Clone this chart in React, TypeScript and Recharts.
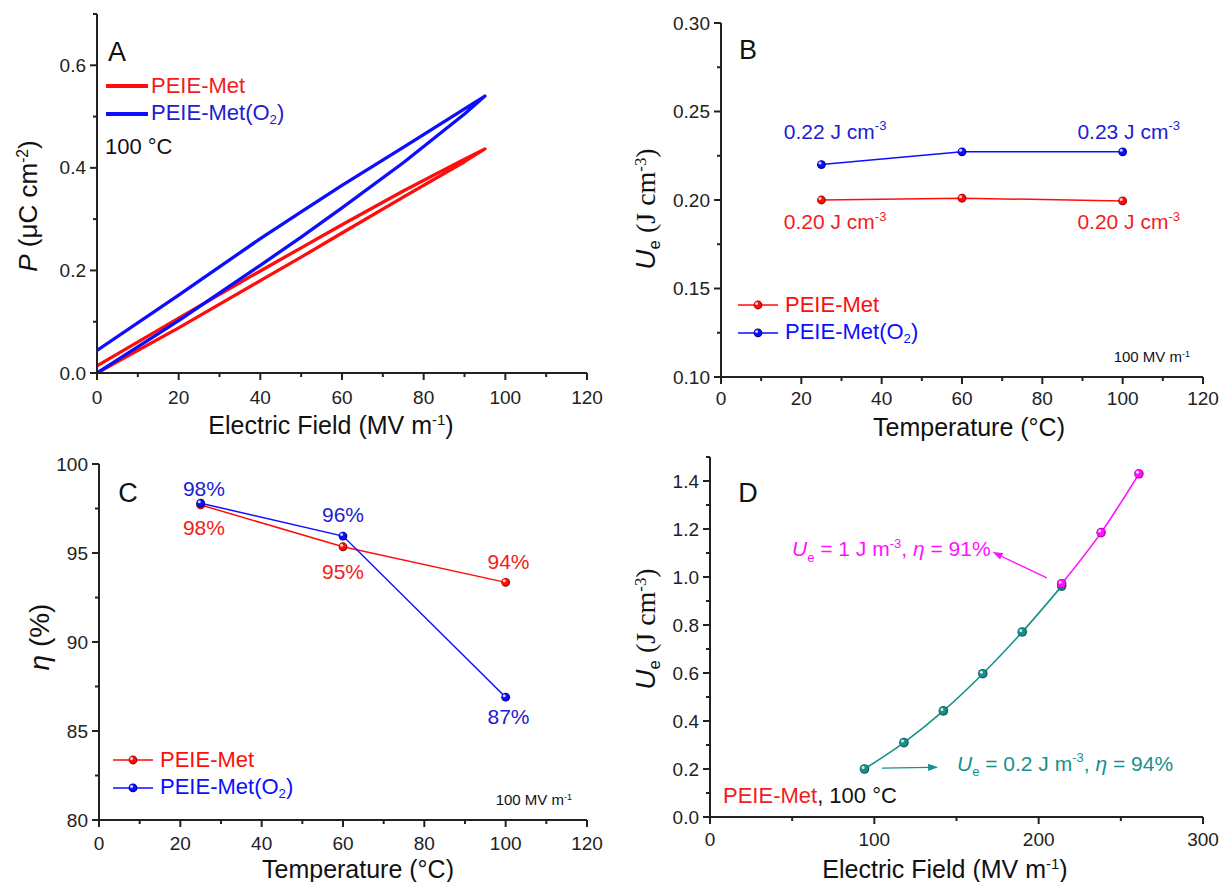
import React from "react";
import { LineChart, Line, XAxis, YAxis, ReferenceDot, ReferenceLine } from "recharts";

const FONT = '"Liberation Sans", Arial, sans-serif';
const SERIF = '"Liberation Serif", "Times New Roman", serif';
const INK = "#222";
const RED = "#ff0d0d";
const BLUE = "#0d0dff";
const RED_TXT = "#f21c1c";
const BLUE_TXT = "#2020d2";
const TEAL = "#16918b";
const MAGENTA = "#ff10ff";

// panel A: P-E loops at 100 °C, charge branch out to 95 MV/m then discharge back
const loopField = [0, 20, 40, 50, 60, 75, 90, 95, 90, 75, 60, 50, 40, 20, 0];
const loopMet = [0, 0.088, 0.18, 0.226, 0.273, 0.343, 0.412, 0.437, 0.417, 0.355, 0.289, 0.244, 0.199, 0.107, 0.014];
const loopMetO2 = [0, 0.102, 0.21, 0.265, 0.322, 0.41, 0.505, 0.54, 0.515, 0.44, 0.366, 0.314, 0.262, 0.152, 0.044];

// panels B and C: vs temperature, 100 MV/m
const temps = [25, 60, 100];
const ueMet = [0.2, 0.201, 0.1995];
const ueMetO2 = [0.22, 0.2272, 0.2272];
const etaMet = [97.7, 95.35, 93.35];
const etaMetO2 = [97.8, 95.95, 86.9];

// panel D: PEIE-Met at 100 °C
const fieldLow = [94, 118, 142, 166, 190, 214];
const ueLow = [0.2, 0.31, 0.442, 0.597, 0.771, 0.962];
const fieldHigh = [214, 238, 261];
const ueHigh = [0.972, 1.185, 1.43];

// ticks (minor + major)
const tempTicks = [0, 10, 20, 30, 40, 50, 60, 70, 80, 90, 100, 110, 120];
const tempMajor = [0, 20, 40, 60, 80, 100, 120];
const pTicks = [0, 0.1, 0.2, 0.3, 0.4, 0.5, 0.6, 0.7];
const pMajor = [0, 0.2, 0.4, 0.6];
const ueTicks = [0.1, 0.125, 0.15, 0.175, 0.2, 0.225, 0.25, 0.275, 0.3];
const ueMajor = [0.1, 0.15, 0.2, 0.25, 0.3];
const etaTicks = [80, 82.5, 85, 87.5, 90, 92.5, 95, 97.5, 100];
const etaMajor = [80, 85, 90, 95, 100];
const fieldTicks = [0, 50, 100, 150, 200, 250, 300];
const fieldMajor = [0, 100, 200, 300];
const ueDTicks = [0, 0.1, 0.2, 0.3, 0.4, 0.5, 0.6, 0.7, 0.8, 0.9, 1.0, 1.1, 1.2, 1.3, 1.4, 1.5];
const ueDMajor = [0, 0.2, 0.4, 0.6, 0.8, 1.0, 1.2, 1.4];

const toRows = (xs: number[], ys: number[]) => xs.map((x, i) => ({ x, y: ys[i] }));

type Side = "bottom" | "top" | "left" | "right";

function tickRenderer(side: Side, majors: number[], fmt: (v: number) => string, labelGap = 23) {
  return (props: any) => {
    const { x, y, payload, index } = props;
    const v = payload.value;
    const major = majors.some((m) => Math.abs(m - v) < 1e-6);
    const len = major ? 7 : 4;
    let line = null;
    let label = null;
    if (side === "bottom") {
      line = <line x1={x} y1={y} x2={x} y2={y + len} />;
      if (major)
        label = (
          <text x={x} y={y + labelGap} textAnchor="middle" dominantBaseline="central">
            {fmt(v)}
          </text>
        );
    } else if (side === "top") {
      line = <line x1={x} y1={y} x2={x} y2={y + len} />;
    } else if (side === "left") {
      line = <line x1={x} y1={y} x2={x - len} y2={y} />;
      if (major)
        label = (
          <text x={x - 11} y={y} textAnchor="end" dominantBaseline="central">
            {fmt(v)}
          </text>
        );
    } else {
      line = <line x1={x} y1={y} x2={x - len} y2={y} />;
    }
    return (
      <g key={`${side}-${index}`}>
        <g stroke={INK} strokeWidth={2}>{line}</g>
        <g fill={INK} fontFamily={FONT} fontSize={19}>{label}</g>
      </g>
    );
  };
}

const AXIS = { stroke: INK, strokeWidth: 2 };

function frameAxes(o: {
  xDomain: [number, number];
  xTicks: number[];
  xMajor: number[];
  xFmt: (v: number) => string;
  yDomain: [number, number];
  yTicks: number[];
  yMajor: number[];
  yFmt: (v: number) => string;
  yWidth: number;
  xHeight: number;
  labelGap: number;
}) {
  const common = { type: "number" as const, allowDataOverflow: true, interval: 0 as const, tickSize: 0, tickMargin: 0, tickLine: false, axisLine: AXIS };
  return [
    <XAxis key="xb" xAxisId="b" dataKey="x" orientation="bottom" domain={o.xDomain} ticks={o.xTicks} height={o.xHeight} tick={tickRenderer("bottom", o.xMajor, o.xFmt, o.labelGap)} {...common} />,
    <XAxis key="xt" xAxisId="t" orientation="top" domain={o.xDomain} ticks={o.xTicks} height={0} tick={tickRenderer("top", o.xMajor, o.xFmt)} {...common} />,
    <YAxis key="yl" yAxisId="l" orientation="left" domain={o.yDomain} ticks={o.yTicks} width={o.yWidth} tick={tickRenderer("left", o.yMajor, o.yFmt)} {...common} />,
    <YAxis key="yr" yAxisId="r" orientation="right" domain={o.yDomain} ticks={o.yTicks} width={0} tick={tickRenderer("right", o.yMajor, o.yFmt)} {...common} />,
  ];
}

function ball(color: string, dark: string, r = 4.4) {
  return (props: any) => {
    const { cx, cy, index } = props;
    if (cx == null || cy == null) return <g key={`n${index}`} />;
    return (
      <g key={`d${index}`}>
        <circle cx={cx} cy={cy} r={r} fill={dark} />
        <circle cx={cx - 0.3} cy={cy - 0.3} r={r - 0.9} fill={color} />
        <circle cx={cx - 1.4} cy={cy - 1.5} r={1.5} fill="#fff" opacity={0.8} />
      </g>
    );
  };
}

type Part = { t: string; s?: "sup" | "sub"; i?: boolean };

function rich(parts: Part[], color: string, size: number, anchor: "start" | "middle" | "end", font = FONT) {
  return (p: any) => {
    const small = Math.round(size * 0.62);
    const out: React.ReactNode[] = [];
    let shift = 0;
    parts.forEach((pt, k) => {
      const target = pt.s === "sup" ? -size * 0.42 : pt.s === "sub" ? size * 0.25 : 0;
      const dy = target - shift;
      shift = target;
      out.push(
        <tspan key={k} dy={dy} fontSize={pt.s ? small : size} fontStyle={pt.i ? "italic" : "normal"}>
          {pt.t}
        </tspan>
      );
    });
    return (
      <text x={p.cx} y={p.cy + size * 0.36} textAnchor={anchor} fill={color} fontFamily={font} fontSize={size}>
        {out}
      </text>
    );
  };
}

function arrow(color: string) {
  return (p: any) => {
    const { x1, y1, x2, y2 } = p;
    const a = Math.atan2(y2 - y1, x2 - x1);
    const L = 10;
    const W = 3.6;
    const bx = x2 - L * Math.cos(a);
    const by = y2 - L * Math.sin(a);
    const pts = `${x2},${y2} ${bx - W * Math.sin(a)},${by + W * Math.cos(a)} ${bx + W * Math.sin(a)},${by - W * Math.cos(a)}`;
    return (
      <g>
        <line x1={x1} y1={y1} x2={bx + 2 * Math.cos(a)} y2={by + 2 * Math.sin(a)} stroke={color} strokeWidth={1.3} />
        <polygon points={pts} fill={color} />
      </g>
    );
  };
}

const abs = (left: number, top: number, extra: React.CSSProperties = {}): React.CSSProperties => ({
  position: "absolute",
  left,
  top,
  whiteSpace: "nowrap",
  lineHeight: 1,
  fontFamily: FONT,
  pointerEvents: "none",
  ...extra,
});

const supStyle: React.CSSProperties = { fontSize: "0.6em", verticalAlign: "0.55em" };
const subStyle: React.CSSProperties = { fontSize: "0.6em", verticalAlign: "-0.3em" };

function Letter({ x, y, ch }: { x: number; y: number; ch: string }) {
  return <div style={abs(x, y, { fontSize: 27, color: "#111", transform: "translate(-50%,-50%)" })}>{ch}</div>;
}

function XTitle({ x, y, children }: { x: number; y: number; children: React.ReactNode }) {
  return <div style={abs(x, y, { fontSize: 25, color: "#111", transform: "translate(-50%,-50%)" })}>{children}</div>;
}

function YTitle({ x, y, children, size = 27 }: { x: number; y: number; children: React.ReactNode; size?: number }) {
  return (
    <div style={abs(x, y, { fontSize: size, color: "#111", transform: "translate(-50%,-50%) rotate(-90deg)" })}>{children}</div>
  );
}

function LegendBall({ x, y, color, dark, children }: { x: number; y: number; color: string; dark: string; children: React.ReactNode }) {
  return (
    <div style={abs(x, y, { transform: "translateY(-50%)", display: "flex", alignItems: "center", fontSize: 22, color })}>
      <svg width={42} height={12} style={{ marginRight: 5 }}>
        <line x1={0} y1={6} x2={40} y2={6} stroke={color} strokeWidth={1.5} />
        <circle cx={20} cy={6} r={4.4} fill={dark} />
        <circle cx={19.7} cy={5.7} r={3.5} fill={color} />
        <circle cx={18.6} cy={4.5} r={1.5} fill="#fff" opacity={0.8} />
      </svg>
      <span>{children}</span>
    </div>
  );
}

const UeTitle = () => (
  <span style={{ fontFamily: SERIF }}>
    <i style={{ fontFamily: FONT }}>U</i>
    <span style={{ ...subStyle, fontFamily: FONT }}>e</span> (J cm<span style={supStyle}>-3</span>)
  </span>
);

function PanelA() {
  return (
    <div style={{ position: "absolute", left: 0, top: 0, width: 610, height: 441 }}>
      <LineChart width={610} height={441} margin={{ top: 14, right: 23, bottom: 0, left: 0 }}>
        {frameAxes({
          xDomain: [0, 120], xTicks: tempTicks, xMajor: tempMajor, xFmt: (v) => String(v),
          yDomain: [0, 0.7], yTicks: pTicks, yMajor: pMajor, yFmt: (v) => v.toFixed(1),
          yWidth: 97, xHeight: 68, labelGap: 24,
        })}
        <Line data={toRows(loopField, loopMet)} dataKey="y" xAxisId="b" yAxisId="l" type="linear" stroke={RED} strokeWidth={3.3} strokeLinejoin="round" dot={false} activeDot={false} isAnimationActive={false} />
        <Line data={toRows(loopField, loopMetO2)} dataKey="y" xAxisId="b" yAxisId="l" type="linear" stroke={BLUE} strokeWidth={3.3} strokeLinejoin="round" dot={false} activeDot={false} isAnimationActive={false} />
      </LineChart>
      <Letter x={117} y={52} ch="A" />
      <svg style={{ position: "absolute", left: 105, top: 80 }} width={44} height={40}>
        <line x1={1} y1={6} x2={43} y2={6} stroke={RED} strokeWidth={4} />
        <line x1={1} y1={34} x2={43} y2={34} stroke={BLUE} strokeWidth={4} />
      </svg>
      <div style={abs(151, 86, { fontSize: 22, color: RED_TXT, transform: "translateY(-50%)" })}>PEIE-Met</div>
      <div style={abs(151, 114, { fontSize: 22, color: BLUE_TXT, transform: "translateY(-50%)" })}>
        PEIE-Met(O<span style={subStyle}>2</span>)
      </div>
      <div style={abs(105, 147, { fontSize: 22, color: "#111", transform: "translateY(-50%)" })}>100 °C</div>
      <XTitle x={331} y={425}>
        Electric Field (MV m<span style={supStyle}>-1</span>)
      </XTitle>
      <YTitle x={28} y={206} size={26}>
        <i>P</i> (μC cm<span style={supStyle}>-2</span>)
      </YTitle>
    </div>
  );
}

function PanelB() {
  return (
    <div style={{ position: "absolute", left: 610, top: 0, width: 610, height: 441 }}>
      <LineChart width={610} height={441} margin={{ top: 23, right: 17, bottom: 0, left: 0 }}>
        {frameAxes({
          xDomain: [0, 120], xTicks: tempTicks, xMajor: tempMajor, xFmt: (v) => String(v),
          yDomain: [0.1, 0.3], yTicks: ueTicks, yMajor: ueMajor, yFmt: (v) => v.toFixed(2),
          yWidth: 111, xHeight: 64, labelGap: 21,
        })}
        <Line data={toRows(temps, ueMet)} dataKey="y" xAxisId="b" yAxisId="l" type="linear" stroke={RED} strokeWidth={1.5} dot={ball(RED, "#a80000")} activeDot={false} isAnimationActive={false} />
        <Line data={toRows(temps, ueMetO2)} dataKey="y" xAxisId="b" yAxisId="l" type="linear" stroke={BLUE} strokeWidth={1.5} dot={ball(BLUE, "#00009a")} activeDot={false} isAnimationActive={false} />
        <ReferenceDot xAxisId="b" yAxisId="l" x={28.4} y={0.2386} r={1} shape={rich([{ t: "0.22 J cm" }, { t: "-3", s: "sup" }], BLUE_TXT, 21, "middle")} />
        <ReferenceDot xAxisId="b" yAxisId="l" x={101.5} y={0.2386} r={1} shape={rich([{ t: "0.23 J cm" }, { t: "-3", s: "sup" }], BLUE_TXT, 21, "middle")} />
        <ReferenceDot xAxisId="b" yAxisId="l" x={28.4} y={0.1877} r={1} shape={rich([{ t: "0.20 J cm" }, { t: "-3", s: "sup" }], RED_TXT, 21, "middle")} />
        <ReferenceDot xAxisId="b" yAxisId="l" x={101.5} y={0.1877} r={1} shape={rich([{ t: "0.20 J cm" }, { t: "-3", s: "sup" }], RED_TXT, 21, "middle")} />
      </LineChart>
      <Letter x={138} y={50} ch="B" />
      <LegendBall x={128} y={305} color={RED} dark="#a80000">PEIE-Met</LegendBall>
      <LegendBall x={128} y={333} color={BLUE} dark="#00009a">
        PEIE-Met(O<span style={subStyle}>2</span>)
      </LegendBall>
      <div style={abs(580, 356, { fontSize: 15, color: "#111", transform: "translate(-100%,-50%)" })}>
        100 MV m<span style={supStyle}>-1</span>
      </div>
      <XTitle x={359} y={427}>Temperature (°C)</XTitle>
      <YTitle x={38} y={209} size={28}>
        <UeTitle />
      </YTitle>
    </div>
  );
}

function PanelC() {
  return (
    <div style={{ position: "absolute", left: 0, top: 441, width: 610, height: 441 }}>
      <LineChart width={610} height={441} margin={{ top: 23, right: 23, bottom: 0, left: 0 }}>
        {frameAxes({
          xDomain: [0, 120], xTicks: tempTicks, xMajor: tempMajor, xFmt: (v) => String(v),
          yDomain: [80, 100], yTicks: etaTicks, yMajor: etaMajor, yFmt: (v) => String(v),
          yWidth: 99, xHeight: 62, labelGap: 23,
        })}
        <Line data={toRows(temps, etaMet)} dataKey="y" xAxisId="b" yAxisId="l" type="linear" stroke={RED} strokeWidth={1.5} dot={ball(RED, "#a80000")} activeDot={false} isAnimationActive={false} />
        <Line data={toRows(temps, etaMetO2)} dataKey="y" xAxisId="b" yAxisId="l" type="linear" stroke={BLUE} strokeWidth={1.5} dot={ball(BLUE, "#00009a")} activeDot={false} isAnimationActive={false} />
        <ReferenceDot xAxisId="b" yAxisId="l" x={25.8} y={98.6} r={1} shape={rich([{ t: "98%" }], BLUE_TXT, 21, "middle")} />
        <ReferenceDot xAxisId="b" yAxisId="l" x={25.8} y={96.46} r={1} shape={rich([{ t: "98%" }], RED_TXT, 21, "middle")} />
        <ReferenceDot xAxisId="b" yAxisId="l" x={60} y={97.19} r={1} shape={rich([{ t: "96%" }], BLUE_TXT, 21, "middle")} />
        <ReferenceDot xAxisId="b" yAxisId="l" x={60} y={93.99} r={1} shape={rich([{ t: "95%" }], RED_TXT, 21, "middle")} />
        <ReferenceDot xAxisId="b" yAxisId="l" x={100.7} y={94.55} r={1} shape={rich([{ t: "94%" }], RED_TXT, 21, "middle")} />
        <ReferenceDot xAxisId="b" yAxisId="l" x={100.7} y={85.84} r={1} shape={rich([{ t: "87%" }], BLUE_TXT, 21, "middle")} />
      </LineChart>
      <Letter x={128} y={52} ch="C" />
      <LegendBall x={113} y={319} color={RED} dark="#a80000">PEIE-Met</LegendBall>
      <LegendBall x={113} y={347} color={BLUE} dark="#00009a">
        PEIE-Met(O<span style={subStyle}>2</span>)
      </LegendBall>
      <div style={abs(572, 358, { fontSize: 15, color: "#111", transform: "translate(-100%,-50%)" })}>
        100 MV m<span style={supStyle}>-1</span>
      </div>
      <XTitle x={358} y={428}>Temperature (°C)</XTitle>
      <YTitle x={40} y={196} size={28}>
        <i>η</i> (%)
      </YTitle>
    </div>
  );
}

function PanelD() {
  return (
    <div style={{ position: "absolute", left: 610, top: 441, width: 610, height: 441 }}>
      <LineChart width={610} height={441} margin={{ top: 16, right: 17, bottom: 0, left: 0 }}>
        {frameAxes({
          xDomain: [0, 300], xTicks: fieldTicks, xMajor: fieldMajor, xFmt: (v) => String(v),
          yDomain: [0, 1.5], yTicks: ueDTicks, yMajor: ueDMajor, yFmt: (v) => v.toFixed(1),
          yWidth: 100, xHeight: 65, labelGap: 22,
        })}
        <Line data={toRows(fieldLow, ueLow)} dataKey="y" xAxisId="b" yAxisId="l" type="monotone" stroke={TEAL} strokeWidth={1.6} dot={ball(TEAL, "#0a5652", 4.8)} activeDot={false} isAnimationActive={false} />
        <Line data={toRows(fieldHigh, ueHigh)} dataKey="y" xAxisId="b" yAxisId="l" type="monotone" stroke={MAGENTA} strokeWidth={1.6} dot={ball(MAGENTA, "#b000b0", 4.8)} activeDot={false} isAnimationActive={false} />
        <ReferenceLine xAxisId="b" yAxisId="l" segment={[{ x: 205, y: 0.996 }, { x: 172, y: 1.104 }]} shape={arrow(MAGENTA)} />
        <ReferenceLine xAxisId="b" yAxisId="l" segment={[{ x: 104.7, y: 0.204 }, { x: 138.8, y: 0.207 }]} shape={arrow(TEAL)} />
        <ReferenceDot
          xAxisId="b" yAxisId="l" x={49.9} y={1.117} r={1}
          shape={rich([{ t: "U", i: true }, { t: "e", s: "sub" }, { t: " = 1 J m" }, { t: "-3", s: "sup" }, { t: ", " }, { t: "η", i: true }, { t: " = 91%" }], MAGENTA, 21, "start")}
        />
        <ReferenceDot
          xAxisId="b" yAxisId="l" x={150.3} y={0.225} r={1}
          shape={rich([{ t: "U", i: true }, { t: "e", s: "sub" }, { t: " = 0.2 J m" }, { t: "-3", s: "sup" }, { t: ", " }, { t: "η", i: true }, { t: " = 94%" }], TEAL, 21, "start")}
        />
      </LineChart>
      <Letter x={138} y={52} ch="D" />
      <div style={abs(113, 355, { fontSize: 22, color: "#111", transform: "translateY(-50%)" })}>
        <span style={{ color: RED_TXT }}>PEIE-Met</span>, 100 °C
      </div>
      <XTitle x={335} y={428}>
        Electric Field (MV m<span style={supStyle}>-1</span>)
      </XTitle>
      <YTitle x={38} y={188} size={28}>
        <UeTitle />
      </YTitle>
    </div>
  );
}

export default function App() {
  return (
    <div style={{ position: "absolute", left: 0, top: 0, width: 1220, height: 882, background: "#fff", overflow: "hidden" }}>
      <PanelA />
      <PanelB />
      <PanelC />
      <PanelD />
    </div>
  );
}
